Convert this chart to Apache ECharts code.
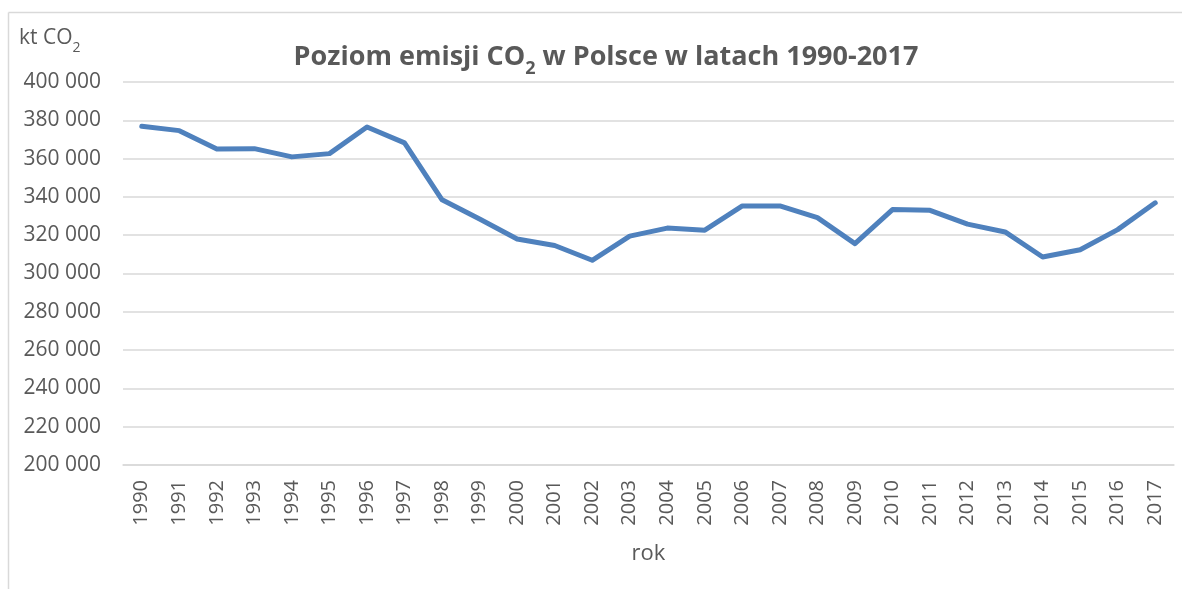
<!DOCTYPE html>
<html>
<head>
<meta charset="utf-8">
<script src="https://cdn.jsdelivr.net/npm/echarts@6/dist/echarts.min.js"></script>
<style>
html,body{margin:0;padding:0;background:#fff;}
#chart{width:1182px;height:589px;}
</style>
</head>
<body>
<div id="chart"></div>
<script>
var years = ['1990','1991','1992','1993','1994','1995','1996','1997','1998','1999','2000','2001','2002','2003','2004','2005','2006','2007','2008','2009','2010','2011','2012','2013','2014','2015','2016','2017'];
var emissions = [376900,374600,365000,365200,360900,362600,376500,368200,338500,328500,318000,314600,306900,319500,323700,322600,335300,335300,329200,315600,333400,333000,325800,321700,308600,312400,322900,336900];
var yMin = 200000, yMax = 400000, yStep = 20000;

var FONT = '"Open Sans", "Noto Sans", sans-serif';
var chart = echarts.init(document.getElementById('chart'), null, {renderer:'canvas'});
chart.setOption({
  animation: false,
  backgroundColor: '#ffffff',
  title: {
    text: '{t|Poziom emisji CO}{s|2}{t| w Polsce w latach 1990-2017}',
    left: 601, top: 31, textAlign: 'center',
    textStyle: {
      rich: {
        t: {fontFamily: FONT, fontSize: 27, fontWeight: 'bold', color: '#595959', verticalAlign:'bottom', lineHeight: 35},
        s: {fontFamily: FONT, fontSize: 18, fontWeight: 'bold', color: '#595959', verticalAlign:'bottom', lineHeight: 25, padding:[0,0,-7,0]}
      }
    }
  },
  graphic: [
    {type:'line', shape:{x1:8.5,y1:12.5,x2:1182,y2:12.5}, style:{stroke:'#d9d9d9', lineWidth:1.5}},
    {type:'line', shape:{x1:8.5,y1:12.5,x2:8.5,y2:589}, style:{stroke:'#d9d9d9', lineWidth:1.5}},
    {type:'text', left: 19, top: 28, style:{
      text:'{t|kt CO}{s|2}',
      rich:{
        t:{fontFamily:FONT, fontSize:21, fill:'#595959', verticalAlign:'bottom', lineHeight:28},
        s:{fontFamily:FONT, fontSize:14, fill:'#595959', verticalAlign:'bottom', lineHeight:19, padding:[0,0,-6,0]}
      }
    }}
  ],
  grid: {left: 123, right: 8, top: 82, bottom: 124, containLabel: false},
  xAxis: {
    type: 'category',
    data: years,
    boundaryGap: true,
    name: 'rok',
    nameLocation: 'middle',
    nameGap: 78,
    nameTextStyle: {fontFamily: FONT, fontSize: 22, color: '#595959'},
    axisLine: {show: true, lineStyle: {color: '#d9d9d9', width: 1.5}},
    axisTick: {show: false},
    axisLabel: {rotate: 90, fontFamily: FONT, fontSize: 20, color: '#595959', margin: 15, interval: 0}
  },
  yAxis: {
    type: 'value',
    min: yMin, max: yMax, interval: yStep,
    axisLine: {show: false},
    axisTick: {show: false},
    splitLine: {lineStyle: {color: '#d9d9d9', width: 1.5}},
    axisLabel: {
      fontFamily: FONT, fontSize: 21, color: '#595959', margin: 22,
      formatter: function(v){ return String(v).replace(/\B(?=(\d{3})+(?!\d))/g, ' '); }
    }
  },
  series: [{
    type: 'line',
    data: emissions,
    showSymbol: false,
    symbol: 'none',
    lineStyle: {color: '#4f81bd', width: 5, cap: 'round', join: 'round'},
    itemStyle: {color: '#4f81bd'}
  }]
});
</script>
</body>
</html>
